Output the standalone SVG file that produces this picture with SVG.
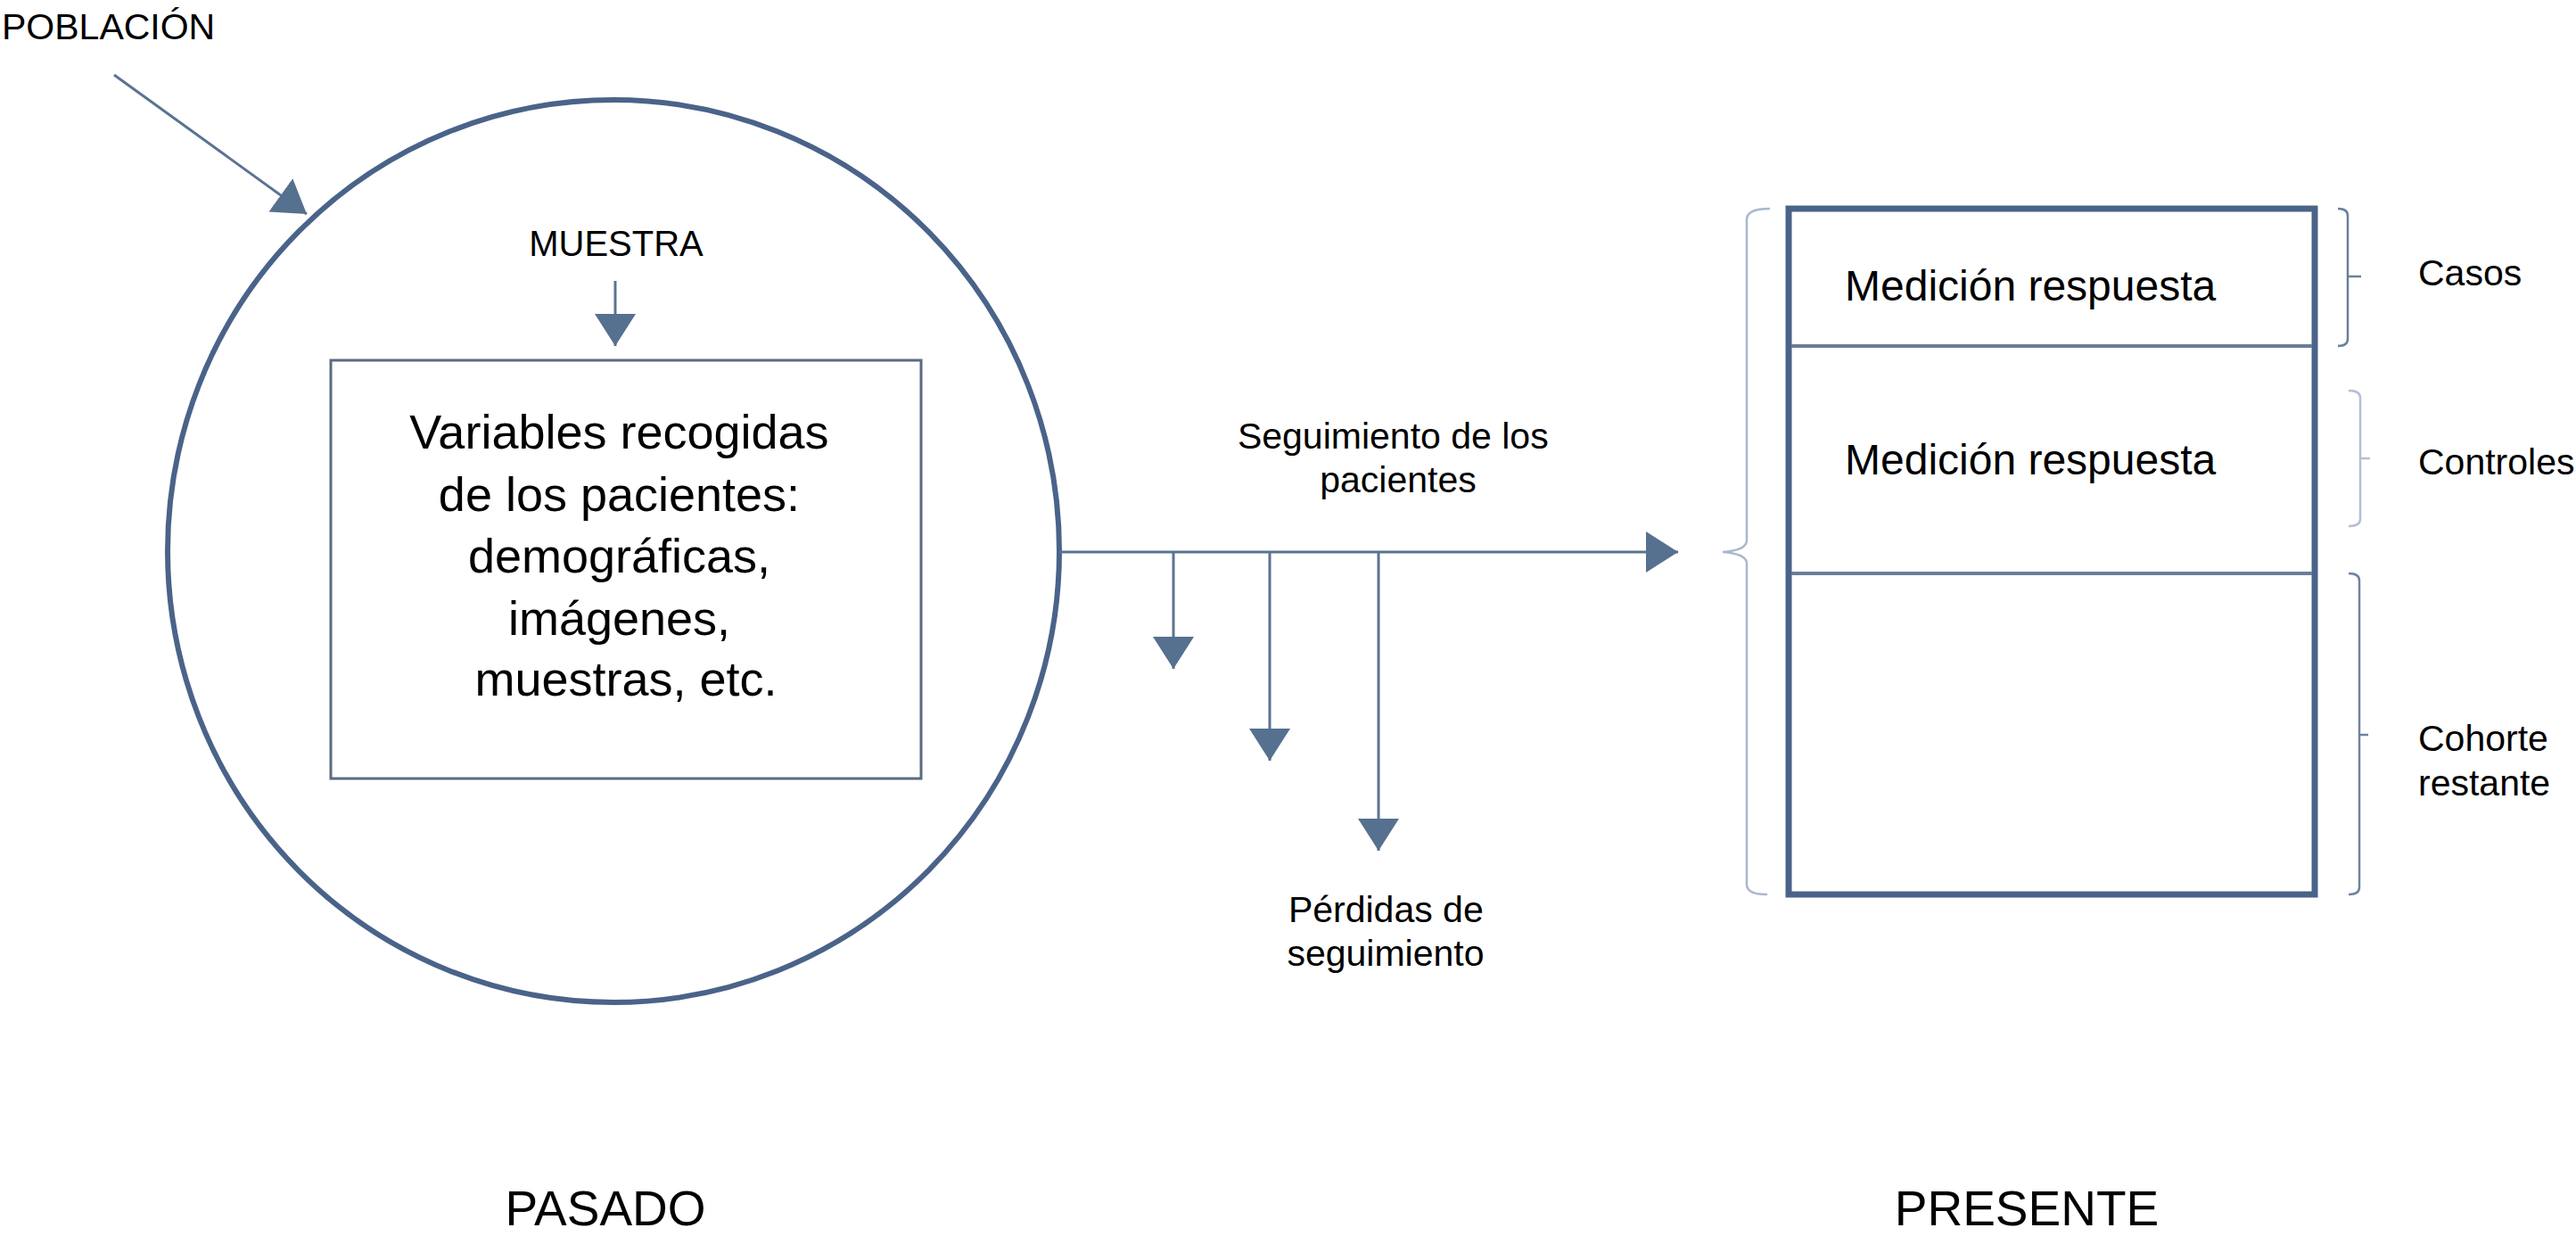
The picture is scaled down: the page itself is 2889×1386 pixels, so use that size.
<svg xmlns="http://www.w3.org/2000/svg" width="2889" height="1386" viewBox="0 0 2889 1386">
<style>
  text { font-family: "Liberation Sans", Arial, sans-serif; fill: #000; }
  .c { text-anchor: middle; }
  .conn { fill: none; stroke: #5a7392; stroke-width: 3; }
  .brace { fill: none; stroke-width: 2.5; }
</style>
<defs>
  <marker id="ah" markerUnits="userSpaceOnUse" markerWidth="40" markerHeight="48" refX="36" refY="23" orient="auto">
    <path d="M0,0 L36,23 L0,46 Z" fill="#56708f"/>
  </marker>
</defs>
<rect x="0" y="0" width="2889" height="1386" fill="#fff"/>

<g id="poblacion">
  <text x="2" y="44" font-size="41">POBLACIÓN</text>
</g>

<g id="muestra-label">
  <text class="c" x="691" y="287" font-size="40">MUESTRA</text>
</g>

<g id="poblacion-circle">
  <ellipse cx="688" cy="618" rx="500" ry="506" fill="none" stroke="#4a6389" stroke-width="6"/>
</g>

<g id="variables">
  <rect x="371" y="404" width="662" height="469" fill="#fff" stroke="#5a6a80" stroke-width="3"/>
  <text class="c" x="702" font-size="54">
    <tspan x="702" y="503">Variables recogidas</tspan>
    <tspan x="702" y="573">de los pacientes:</tspan>
    <tspan x="702" y="642">demográficas,</tspan>
    <tspan x="702" y="712">imágenes,</tspan>
    <tspan x="702" y="780">muestras, etc.</tspan>
  </text>
</g>

<g id="seguimiento-label">
  <text class="c" x="1568" font-size="41">
    <tspan x="1568" y="503">Seguimiento de los</tspan>
    <tspan x="1568" y="552">pacientes</tspan>
  </text>
</g>

<g id="perdidas-label">
  <text class="c" x="1558" font-size="41">
    <tspan x="1560" y="1034">Pérdidas de</tspan>
    <tspan x="1554" y="1083">seguimiento</tspan>
  </text>
</g>

<g id="presente-box">
  <rect x="2006" y="234" width="590" height="769" fill="#fff" stroke="#4a6389" stroke-width="7"/>
  <line x1="2009" y1="388" x2="2593" y2="388" stroke="#6a7d96" stroke-width="4"/>
  <line x1="2009" y1="643" x2="2593" y2="643" stroke="#6a7d96" stroke-width="4"/>
  <text x="2069" y="337" font-size="48">Medición respuesta</text>
  <text x="2069" y="532" font-size="48">Medición respuesta</text>
</g>

<g id="braces">
  <path class="brace" stroke="#a9b8cc" stroke-width="3" d="M1985,234 Q1959,234 1959,246 V606 Q1959,617 1932,619 Q1959,621 1959,632 V992 Q1959,1003 1982,1003"/>
  <path class="brace" stroke="#6b7f99" d="M2622,234 Q2633,234 2633,242 V380 Q2633,388 2622,388 M2633,310 H2648"/>
  <path class="brace" stroke="#b3c0d6" stroke-width="3" d="M2634,438 Q2647,438 2647,446 V582 Q2647,590 2634,590 M2647,514 H2658"/>
  <path class="brace" stroke="#6f83a0" d="M2634,643 Q2646,643 2646,651 V995 Q2646,1003 2634,1003 M2646,824 H2656"/>
</g>

<g id="casos"><text x="2712" y="320" font-size="41">Casos</text></g>
<g id="controles"><text x="2712" y="532" font-size="41">Controles</text></g>
<g id="cohorte">
  <text x="2712" font-size="41"><tspan x="2712" y="842">Cohorte</tspan><tspan x="2712" y="892">restante</tspan></text>
</g>

<g id="pasado"><text class="c" x="679" y="1374" font-size="55">PASADO</text></g>
<g id="presente"><text class="c" x="2273" y="1374" font-size="55">PRESENTE</text></g>

<g id="connectors">
  <line class="conn" x1="128" y1="84" x2="344" y2="240" stroke="#7d8aa0" stroke-width="2" marker-end="url(#ah)"/>
  <line class="conn" x1="690" y1="315" x2="690" y2="388" stroke-width="2.5" marker-end="url(#ah)"/>
  <line class="conn" x1="1188" y1="619" x2="1882" y2="619" marker-end="url(#ah)"/>
  <line class="conn" x1="1316" y1="619" x2="1316" y2="750" marker-end="url(#ah)"/>
  <line class="conn" x1="1424" y1="619" x2="1424" y2="853" marker-end="url(#ah)"/>
  <line class="conn" x1="1546" y1="619" x2="1546" y2="954" marker-end="url(#ah)"/>
</g>
</svg>
